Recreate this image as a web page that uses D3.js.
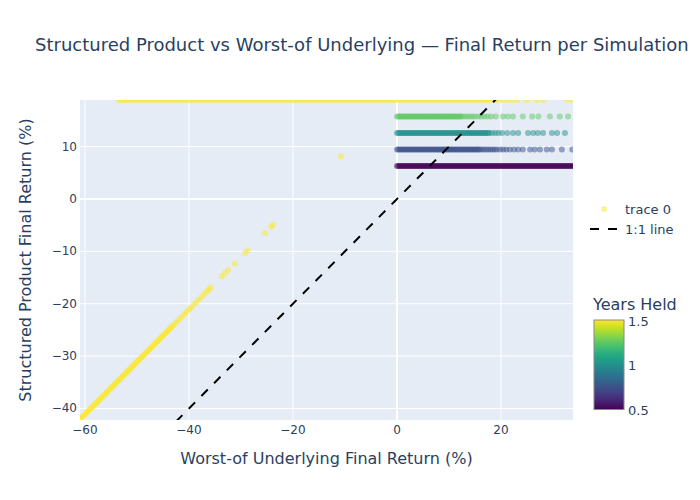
<!DOCTYPE html>
<html>
<head>
<meta charset="utf-8">
<script src="https://cdn.jsdelivr.net/npm/d3@7"></script>
<style>
  body { margin: 0; background: #fff; }
  text { font-family: "DejaVu Sans", Verdana, sans-serif; fill: #2a3f5f; }
</style>
</head>
<body>
<div id="chart"></div>
<script>
// years held per band, and the return each band gets when called
var yearsHeld = [0.5, 0.75, 1.0, 1.25, 1.5];
var bandReturn = [6.3, 9.45, 12.6, 15.75, 18.9];

// worst-of return of the simulations in each band
var band05X = [0,0.25,0.5,0.75,1,1.25,1.5,1.75,2,2.25,2.5,2.75,3,3.25,3.5,3.75,4,4.25,4.5,4.75,5,5.25,5.5,5.75,6,6.25,6.5,6.75,7,7.25,7.5,7.75,8,8.25,8.5,8.75,9,9.25,9.5,9.75,10,10.25,10.5,10.75,11,11.25,11.5,11.75,12,12.25,12.5,12.75,13,13.25,13.5,13.75,14,14.25,14.5,14.75,15,15.25,15.5,15.75,16,16.25,16.5,16.75,17,17.25,17.5,17.75,18,18.25,18.5,18.75,19,19.25,19.5,19.75,20,20.25,20.5,20.75,21,21.25,21.5,21.75,22,22.25,22.5,22.75,23,23.25,23.5,23.75,24,24.25,24.5,24.75,25,25.25,25.5,25.75,26,26.25,26.5,26.75,27,27.25,27.5,27.75,28,28.25,28.5,28.75,29,29.25,29.5,29.75,30,30.25,30.5,30.75,31,31.25,31.5,31.75,32,32.25,32.5,32.75,33,33.25,33.5,33.75,34];
var band075X = [0,0.25,0.5,0.75,1,1.25,1.5,1.75,2,2.25,2.5,2.75,3,3.25,3.5,3.75,4,4.25,4.5,4.75,5,5.25,5.5,5.75,6,6.25,6.5,6.75,7,7.25,7.5,7.75,8,8.25,8.5,8.75,9,9.25,9.5,9.75,10,10.25,10.5,10.75,11,11.25,11.5,11.75,12,12.25,12.5,12.75,13,13.25,13.5,13.75,14,14.25,14.5,14.75,15,15.25,15.5,15.75,16,16.4,16.8,17.2,17.6,18,18.4,18.8,19.2,19.8,20.4,21,21.7,22.5,23.3,24.2,25.6,26.5,27.5,28.8,29.8,31.7,33.7];
var band1X = [0,0.25,0.5,0.75,1,1.25,1.5,1.75,2,2.25,2.5,2.75,3,3.25,3.5,3.75,4,4.25,4.5,4.75,5,5.25,5.5,5.75,6,6.25,6.5,6.75,7,7.25,7.5,7.75,8,8.25,8.5,8.75,9,9.25,9.5,9.75,10,10.25,10.5,10.75,11,11.25,11.5,11.75,12,12.25,12.5,12.75,13,13.25,13.5,13.75,14,14.25,14.5,14.75,15,15.25,15.5,15.75,16,16.25,16.5,16.75,17,17.25,17.5,17.75,18.3,18.9,19.5,20.2,21.2,22.3,23.3,25.2,26.2,27.1,28.1,29.8,30.8,32.3];
var band125X = [0,0.25,0.5,0.75,1,1.25,1.5,1.75,2,2.25,2.5,2.75,3,3.25,3.5,3.75,4,4.25,4.5,4.75,5,5.25,5.5,5.75,6,6.25,6.5,6.75,7,7.25,7.5,7.75,8,8.25,8.5,8.75,9,9.25,9.5,9.75,10,10.25,10.5,10.75,11,11.25,11.5,11.75,12,12.25,12.5,13,13.5,14,14.5,15,15.6,16.2,16.8,17.4,18.1,19.0,20.4,21.3,22.3,24.2,26.0,27.2,29.4,31.3,32.9];
var band15X = [-53.5,-53,-52.5,-52,-51.5,-51,-50.5,-50,-49.5,-49,-48.5,-48,-47.5,-47,-46.5,-46,-45.5,-45,-44.5,-44,-43.5,-43,-42.5,-42,-41.5,-41,-40.5,-40,-39.5,-39,-38.5,-38,-37.5,-37,-36.5,-36,-35.5,-35,-34.5,-34,-33.5,-33,-32.5,-32,-31.5,-31,-30.5,-30,-29.5,-29,-28.5,-28,-27.5,-27,-26.5,-26,-25.5,-25,-24.5,-24,-23.5,-23,-22.5,-22,-21.5,-21,-20.5,-20,-19.5,-19,-18.5,-18,-17.5,-17,-16.5,-16,-15.5,-15,-14.5,-14,-13.5,-13,-12.5,-12,-11.5,-11,-10.5,-10,-9.5,-9,-8.5,-8,-7.5,-7,-6.5,-6,-5.5,-5,-4.5,-4,-3.5,-3,-2.5,-2,-1.5,-1,-0.5,0,0.5,1,1.5,2,2.5,3,3.5,4,4.5,5,5.5,6,6.5,7,7.5,8,8.5,9,9.5,10,10.5,11,11.5,12,12.5,13,13.5,14,14.5,15,15.5,16,16.5,17,17.5,18,18.8,19.6,20.4,21.2,22.1,23.1,25.0,26.9,28.1,32.7,33.7];
var bandX = [band05X, band075X, band1X, band125X, band15X];

// simulations held to maturity (1.5 years) that took the loss
var lossX = [-62,-61.75,-61.5,-61.25,-61,-60.75,-60.5,-60.25,-60,-59.75,-59.5,-59.25,-59,-58.75,-58.5,-58.25,-58,-57.75,-57.5,-57.25,-57,-56.75,-56.5,-56.25,-56,-55.75,-55.5,-55.25,-55,-54.75,-54.5,-54.25,-54,-53.75,-53.5,-53.25,-53,-52.75,-52.5,-52.25,-52,-51.75,-51.5,-51.25,-51,-50.75,-50.5,-50.25,-50,-49.75,-49.5,-49.25,-49,-48.75,-48.5,-48.25,-48,-47.75,-47.5,-47.25,-47,-46.75,-46.5,-46.25,-46,-45.75,-45.5,-45.25,-45,-44.75,-44.5,-44.25,-44,-43.75,-43.5,-43.25,-43,
    -42.6,-42.2,-41.8,-41.4,-40.9,-40.5,-40,-39.6,-39.1,-38.6,-38.1,-37.6,-37.1,-36.6,-36.2,-35.8,-33.7,-33.1,-32.5,-31.2,-29.2,-28.7,-25.4,-24.2,-23.8,-10.8];
var lossY = [-43.1,-42.85,-42.6,-42.35,-42.1,-41.85,-41.6,-41.35,-41.1,-40.85,-40.6,-40.35,-40.1,-39.85,-39.6,-39.35,-39.1,-38.85,-38.6,-38.35,-38.1,-37.85,-37.6,-37.35,-37.1,-36.85,-36.6,-36.35,-36.1,-35.85,-35.6,-35.35,-35.1,-34.85,-34.6,-34.35,-34.1,-33.85,-33.6,-33.35,-33.1,-32.85,-32.6,-32.35,-32.1,-31.85,-31.6,-31.35,-31.1,-30.85,-30.6,-30.35,-30.1,-29.85,-29.6,-29.35,-29.1,-28.85,-28.6,-28.35,-28.1,-27.85,-27.6,-27.35,-27.1,-26.85,-26.6,-26.35,-26.1,-25.85,-25.6,-25.35,-25.1,-24.85,-24.6,-24.35,-24.1,
    -23.7,-23.3,-22.9,-22.5,-22,-21.6,-21.1,-20.7,-20.2,-19.7,-19.2,-18.7,-18.2,-17.7,-17.3,-16.9,-14.8,-14.2,-13.6,-12.3,-10.3,-9.8,-6.5,-5.3,-4.9,8.1];
var lossYears = 1.5;

var oneToOne = [-62, 34];
var xTicks = [-60, -40, -20, 0, 20];
var yTicks = [-40, -30, -20, -10, 0, 10];
var cbTicks = [0.5, 1, 1.5];

var points = [];
bandX.forEach(function (xs, i) {
    xs.forEach(function (x) { points.push({ x: x, y: bandReturn[i], t: yearsHeld[i] }); });
});
lossX.forEach(function (x, i) { points.push({ x: x, y: lossY[i], t: lossYears }); });

var W = 700, H = 500;
var margin = { left: 80, top: 100, right: 127, bottom: 80 };
var pw = W - margin.left - margin.right, ph = H - margin.top - margin.bottom;

var svg = d3.select('#chart').append('svg').attr('width', W).attr('height', H);

var x = d3.scaleLinear().domain([-60.96, 33.85]).range([margin.left, margin.left + pw]);
var y = d3.scaleLinear().domain([-42.2, 18.9]).range([margin.top + ph, margin.top]);
var color = d3.scaleSequential(d3.interpolateViridis).domain([0.5, 1.5]);
var minus = function (v) { return String(v).replace('-', '\u2212'); };

svg.append('rect')
    .attr('x', margin.left).attr('y', margin.top)
    .attr('width', pw).attr('height', ph)
    .attr('fill', '#E5ECF6');

svg.append('clipPath').attr('id', 'clip')
  .append('rect')
    .attr('x', margin.left).attr('y', margin.top)
    .attr('width', pw).attr('height', ph);

// grid
svg.append('g').selectAll('line').data(xTicks).enter().append('line')
    .attr('x1', function (d) { return x(d); }).attr('x2', function (d) { return x(d); })
    .attr('y1', margin.top).attr('y2', margin.top + ph)
    .attr('stroke', '#fff').attr('stroke-width', function (d) { return d === 0 ? 2 : 1; });
svg.append('g').selectAll('line').data(yTicks).enter().append('line')
    .attr('y1', function (d) { return y(d); }).attr('y2', function (d) { return y(d); })
    .attr('x1', margin.left).attr('x2', margin.left + pw)
    .attr('stroke', '#fff').attr('stroke-width', function (d) { return d === 0 ? 2 : 1; });

var plot = svg.append('g').attr('clip-path', 'url(#clip)');

plot.selectAll('circle').data(points).enter().append('circle')
    .attr('cx', function (d) { return x(d.x); })
    .attr('cy', function (d) { return y(d.y); })
    .attr('r', 3)
    .attr('fill', function (d) { return color(d.t); })
    .attr('fill-opacity', 0.5);

plot.append('line')
    .attr('x1', x(oneToOne[0])).attr('y1', y(oneToOne[0]))
    .attr('x2', x(oneToOne[1])).attr('y2', y(oneToOne[1]))
    .attr('stroke', '#000').attr('stroke-width', 2)
    .attr('stroke-dasharray', '9,9');

// tick labels
svg.append('g').selectAll('text').data(xTicks).enter().append('text')
    .attr('x', function (d) { return x(d); })
    .attr('y', margin.top + ph + 14)
    .attr('text-anchor', 'middle')
    .style('font-size', '12px')
    .text(minus);
svg.append('g').selectAll('text').data(yTicks).enter().append('text')
    .attr('x', margin.left - 3)
    .attr('y', function (d) { return y(d) + 4; })
    .attr('text-anchor', 'end')
    .style('font-size', '12px')
    .text(minus);

// titles
svg.append('text')
    .attr('x', 35).attr('y', 51)
    .style('font-size', '18px')
    .text('Structured Product vs Worst-of Underlying \u2014 Final Return per Simulation');
svg.append('text')
    .attr('x', margin.left + pw / 2).attr('y', 464)
    .attr('text-anchor', 'middle')
    .style('font-size', '16px')
    .text('Worst-of Underlying Final Return (%)');
svg.append('text')
    .attr('transform', 'translate(31,' + (margin.top + ph / 2) + ') rotate(-90)')
    .attr('text-anchor', 'middle')
    .style('font-size', '16px')
    .text('Structured Product Final Return (%)');

// legend
var legend = svg.append('g');
legend.append('circle')
    .attr('cx', 604).attr('cy', 209).attr('r', 3)
    .attr('fill', color(1.5)).attr('fill-opacity', 0.5);
legend.append('text').attr('x', 625).attr('y', 214)
    .style('font-size', '13px').text('trace 0');
legend.append('line')
    .attr('x1', 590).attr('x2', 620).attr('y1', 229).attr('y2', 229)
    .attr('stroke', '#000').attr('stroke-width', 2)
    .attr('stroke-dasharray', '9,9');
legend.append('text').attr('x', 625).attr('y', 234)
    .style('font-size', '13px').text('1:1 line');

// colorbar
var cb = d3.scaleLinear().domain([0.5, 1.5]).range([409.5, 320]);
var grad = svg.append('defs').append('linearGradient')
    .attr('id', 'viridis').attr('x1', 0).attr('y1', 1).attr('x2', 0).attr('y2', 0);
d3.range(0, 1.0001, 0.1).forEach(function (s) {
    grad.append('stop').attr('offset', s).attr('stop-color', d3.interpolateViridis(s));
});
svg.append('text').attr('x', 593).attr('y', 310)
    .style('font-size', '16px').text('Years Held');
svg.append('rect')
    .attr('x', 594).attr('y', cb(1.5))
    .attr('width', 30).attr('height', cb(0.5) - cb(1.5))
    .attr('fill', 'url(#viridis)')
    .attr('stroke', '#888').attr('stroke-width', 1);
svg.append('g').selectAll('text').data(cbTicks).enter().append('text')
    .attr('x', 628)
    .attr('y', function (d) { return cb(d) + (d === 1.5 ? 6 : 5); })
    .style('font-size', '13px')
    .text(function (d) { return d; });
</script>
</body>
</html>
